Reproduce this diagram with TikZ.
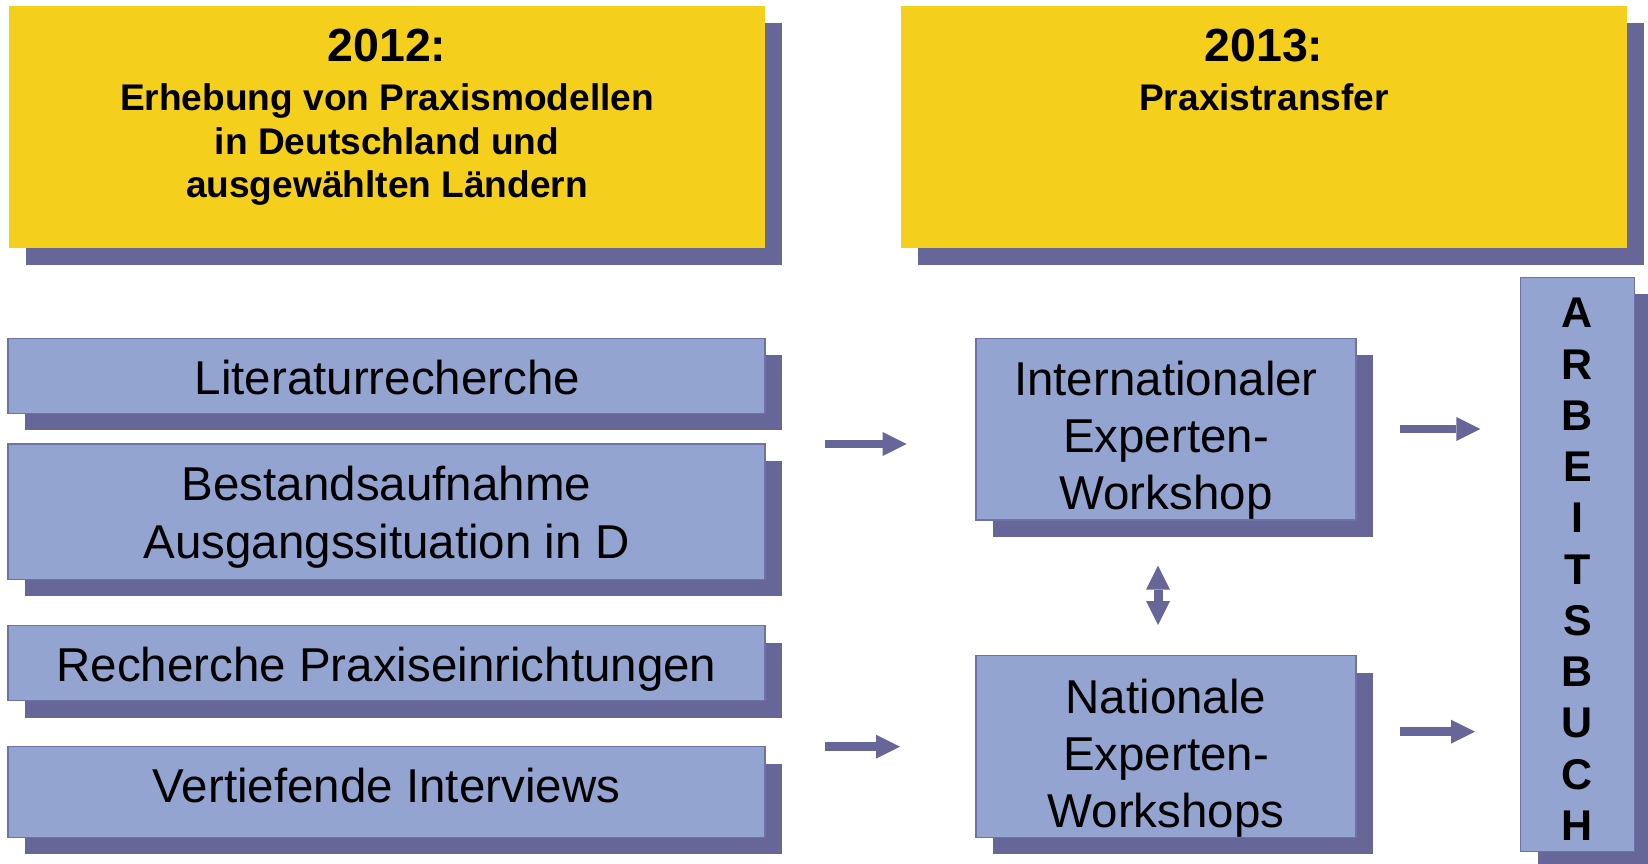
\documentclass[tikz,border=0pt]{standalone}
\usepackage{fontspec}
\setmainfont{Liberation Sans}
\usetikzlibrary{arrows.meta,shadows}

\definecolor{headyellow}{HTML}{F4D01C}
\definecolor{boxblue}{HTML}{94A4D1}
\definecolor{shadowpurple}{HTML}{666699}
\definecolor{edgepurple}{HTML}{6E72AA}

\tikzset{
  shadowed/.style={drop shadow={shadow xshift=16.8pt, shadow yshift=-16.8pt,
      fill=shadowpurple, opacity=1}},
  headbox/.style={shadowed, fill=headyellow, draw=none, anchor=north west,
      inner sep=0pt, outer sep=0pt},
  taskbox/.style={shadowed, fill=boxblue, draw=edgepurple, line width=1.4pt,
      anchor=north west, inner sep=0pt, outer sep=0pt},
  yeartext/.style={font=\bfseries\fontsize{46.5}{56}\selectfont, inner sep=0pt},
  subtext/.style={font=\bfseries\fontsize{37.1}{43.7}\selectfont, align=center, inner sep=0pt},
  bodytext/.style={font=\fontsize{47.5}{57}\selectfont, align=center, inner sep=0pt},
  lettertext/.style={font=\bfseries\fontsize{43}{51.25}\selectfont, align=center, inner sep=0pt},
  flow/.style={draw=shadowpurple, line width=8.5pt,
      -{Triangle[length=24pt, width=24pt, line width=0pt]}},
  twoway/.style={draw=shadowpurple, line width=9pt,
      {Triangle[length=24pt, width=24pt, line width=0pt]}-{Triangle[length=24pt, width=24pt, line width=0pt]}},
}

\begin{document}
\begin{tikzpicture}[x=1pt, y=-1pt]
  \useasboundingbox (0,0) rectangle (1648,863);

  % phase headers
  \node[headbox, minimum width=755.8pt, minimum height=241.7pt] (h12) at (9.2,6) {};
  \node[headbox, minimum width=725.8pt, minimum height=241.7pt] (h13) at (901.1,6) {};
  \node[yeartext, anchor=base] (y12) at (387,61.7) {2012:};
  \node[subtext, anchor=north] (s12) at (387,83.4)
    {Erhebung von Praxismodellen\\in Deutschland und\hspace*{0.278em}\\ausgewählten Ländern};
  \node[yeartext, anchor=base] (y13) at (1264,61.7) {2013:};
  \node[subtext, anchor=base] (s13) at (1264,110) {Praxistransfer};

  % 2012 work packages
  \node[taskbox, minimum width=757pt, minimum height=75.2pt] (lit) at (8,338.3) {};
  \node[taskbox, minimum width=757pt, minimum height=135.3pt] (best) at (8,444) {};
  \node[taskbox, minimum width=757pt, minimum height=75pt] (rech) at (8,625.7) {};
  \node[taskbox, minimum width=757pt, minimum height=90.6pt] (vert) at (8,746.7) {};
  \node[bodytext, anchor=base] (lit-t) at (387.5,394) {Literaturrecherche};
  \node[bodytext, anchor=north, font=\fontsize{47.5}{58.3}\selectfont] (best-t) at (386.5,465.4)
    {Bestandsaufnahme\\Ausgangssituation in D};
  \node[bodytext, anchor=base] (rech-t) at (386.5,681.7) {Recherche Praxiseinrichtungen};
  \node[bodytext, anchor=base] (vert-t) at (386.5,802.7) {Vertiefende Interviews};

  % 2013 workshops
  \node[taskbox, minimum width=380pt, minimum height=181.7pt] (int) at (976,338.3) {};
  \node[taskbox, minimum width=380pt, minimum height=181.6pt] (nat) at (976,655.7) {};
  \node[bodytext, anchor=north, font=\fontsize{47.5}{56.7}\selectfont] (int-t) at (1166,361)
    {Internationaler\\Experten-\\Workshop};
  \node[bodytext, anchor=north] (nat-t) at (1166,678.7)
    {Nationale\\Experten-\\Workshops};

  % result column
  \node[taskbox, minimum width=113.6pt, minimum height=574.4pt] (arb) at (1520.7,277.3) {};
  \node[lettertext, anchor=north] (arb-t) at (1577.5,298.2)
    {A\\R\\B\\E\\I\\T\\S\\B\\U\\C\\H};

  % arrows
  \coordinate (a1s) at (825,444);      \coordinate (a1e) at (906.7,444);
  \coordinate (a2s) at (825,746.7);    \coordinate (a2e) at (900,746.7);
  \coordinate (a3s) at (1400,429);     \coordinate (a3e) at (1480.4,429);
  \coordinate (a4s) at (1400,731.7);   \coordinate (a4e) at (1475,731.7);
  \coordinate (dtop) at (1158,565.7);  \coordinate (dbot) at (1158,625);
  \draw[flow] (a1s) -- (a1e);
  \draw[flow] (a2s) -- (a2e);
  \draw[flow] (a3s) -- (a3e);
  \draw[flow] (a4s) -- (a4e);
  \draw[twoway] (dtop) -- (dbot);
\end{tikzpicture}
\end{document}
